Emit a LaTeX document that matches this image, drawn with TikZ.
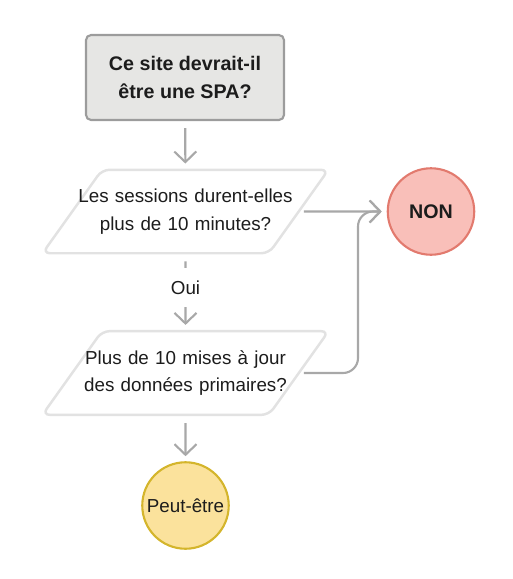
\documentclass[tikz,border=0pt]{standalone}
\usepackage{fontspec}
\setmainfont{Liberation Sans}
\usetikzlibrary{positioning, arrows.meta, shapes.geometric}

\definecolor{startfill}{HTML}{E6E6E4}
\definecolor{startline}{HTML}{9C9C9C}
\definecolor{paraline}{HTML}{E2E2E2}
\definecolor{flowgray}{HTML}{A8A8A8}
\definecolor{nonfill}{HTML}{F9BFB9}
\definecolor{nonline}{HTML}{E27A6E}
\definecolor{maybefill}{HTML}{FBE29C}
\definecolor{maybeline}{HTML}{D4B52C}
\definecolor{inkdark}{HTML}{1C1C1C}

\begin{document}
\begin{tikzpicture}[
        x=0.02cm, y=-0.02cm,
        font=\fontsize{10.7}{15.9}\selectfont,
        text=inkdark,
        >={Straight Barb[length=6pt,width=12.5pt]},
        % Styles
        start/.style={% For the first question
            rectangle,
            rounded corners=1mm,
            draw=startline,
            fill=startfill,
            line width=1.2pt,
            minimum width=3.96cm,
            minimum height=1.7cm,
            align=center,
            font=\fontsize{11.2}{15.6}\selectfont\bfseries,
            },
        question/.style={% For the slanted questions
            trapezium,
            trapezium left angle=54.5,
            trapezium right angle=125.5,
            rounded corners=1.5mm,
            draw=paraline,
            fill=white,
            line width=1.4pt,
            text width=4.5cm,
            inner xsep=-0.58cm,
            inner ysep=0.38cm,
            align=center,
            },
        answer/.style={% For the end circles
            circle,
            line width=1.2pt,
            minimum size=1.73cm,
            inner sep=0pt,
            },
        flow/.style={% Gray arrows
            ->,
            draw=flowgray,
            line width=1.2pt,
            shorten <=0.14cm,
            shorten >=0.1cm,
            },
        ]

    \useasboundingbox (0,0) rectangle (512,579);

    % Nodes
    \node [start] (spa) at (185,77.5) {Ce site devrait-il\\être une SPA?};
    \node [question] (q1) at (185.5,211.5) {Les sessions durent-elles\\plus de 10 minutes?};
    \node [question] (q2) at (185.5,373) {Plus de 10 mises à jour\\des données primaires?};
    \node [answer, fill=nonfill, draw=nonline, font=\fontsize{11.2}{15.6}\selectfont\bfseries] (non) at (431,211.5) {NON};
    \node [answer, fill=maybefill, draw=maybeline] (maybe) at (185.5,505.5) {Peut-être};
    \coordinate (bend) at (358,211.5);

    % Arrows
    \draw [flow] (spa) -- (q1);
    \draw [flow] (q1) -- node[pos=0.44, fill=white, inner xsep=0.1cm, inner ysep=0.25cm] {Oui} (q2);
    \draw [flow] (q2) -- (maybe);
    \draw [flow, shorten <=2pt] (q1.east) -- (non);
    \draw [flow, shorten <=2pt, rounded corners=0.3cm] (q2.east) -| (bend) -- (non);

\end{tikzpicture}
\end{document}
